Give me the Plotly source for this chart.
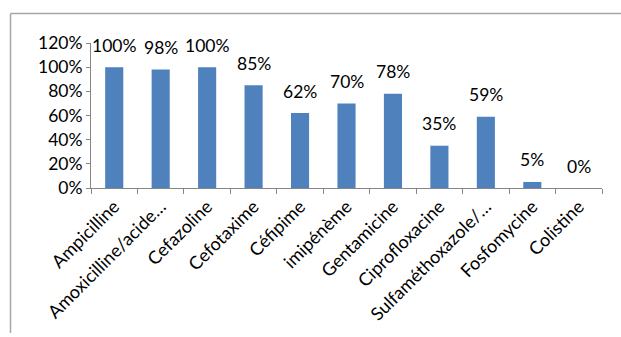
import plotly.graph_objects as go

# Antibiotic resistance rates (%)
antibiotics = [
    "Ampicilline", "Amoxicilline/acide…", "Cefazoline", "Cefotaxime",
    "Céfipime", "imipénème", "Gentamicine", "Ciprofloxacine",
    "Sulfaméthoxazole/…", "Fosfomycine", "Colistine",
]
rates = [100, 98, 100, 85, 62, 70, 78, 35, 59, 5, 0]
y_ticks = [0, 20, 40, 60, 80, 100, 120]

FONT = "Lato"
FS = 17.5
FS_CAT = 18
AXIS_GREY = "#868686"

fig = go.Figure(
    go.Bar(
        x=antibiotics,
        y=rates,
        marker=dict(color="#4F81BD", line=dict(width=0)),
        width=0.39,
        hoverinfo="skip",
    )
)

# Value labels above each bar
for name, v in zip(antibiotics, rates):
    fig.add_annotation(
        x=name, y=v, text=f"{v}%", showarrow=False,
        yshift=22, font=dict(family=FONT, size=FS, color="#000"),
    )

# Outer chart frame (left and top edges)
L, T = 91, 43
W, H = 511, 147
def px(xp):
    return (xp - L) / W
def py(yp):
    return (T + H - yp) / H
frame = dict(color="#A6A6A6", width=1.5)
fig.add_shape(type="line", xref="paper", yref="paper",
              x0=px(10.5), x1=px(621), y0=py(13), y1=py(13), line=frame)
fig.add_shape(type="line", xref="paper", yref="paper",
              x0=px(10.5), x1=px(10.5), y0=py(13), y1=py(337), line=frame)

fig.update_layout(
    width=621, height=337,
    margin=dict(l=L, r=621 - L - W, t=T, b=337 - T - H),
    paper_bgcolor="white", plot_bgcolor="white",
    showlegend=False,
    font=dict(family=FONT, size=FS, color="#000"),
    xaxis=dict(
        type="category",
        showline=True, linecolor=AXIS_GREY, linewidth=1,
        ticks="outside", ticklen=5, tickcolor=AXIS_GREY,
        tickson="boundaries",
        tickangle=-45,
        tickfont=dict(family=FONT, size=FS_CAT),
        showgrid=False,
        range=[-0.5, len(antibiotics) - 0.5],
    ),
    yaxis=dict(
        range=[0, 120],
        tickvals=y_ticks,
        ticktext=[f"{t}%" for t in y_ticks],
        showline=True, linecolor=AXIS_GREY, linewidth=1,
        ticks="outside", ticklen=4, tickcolor=AXIS_GREY,
        tickfont=dict(family=FONT, size=FS),
        showgrid=False, zeroline=False,
    ),
)

fig.write_html("out.html")
